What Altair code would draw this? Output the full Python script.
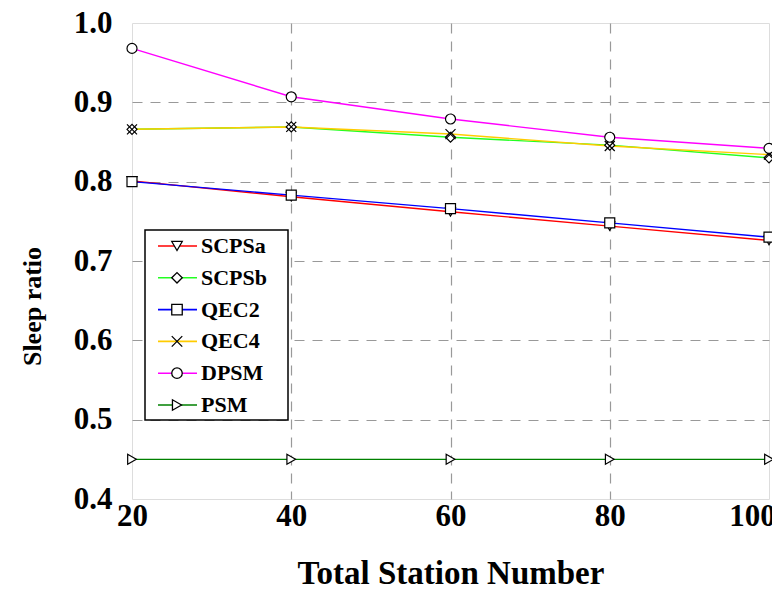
import altair as alt
import pandas as pd

stations = [20, 40, 60, 80, 100]
series_names = ["SCPSa", "SCPSb", "QEC2", "QEC4", "DPSM", "PSM"]
scpsa = [0.801, 0.781, 0.762, 0.744, 0.726]
scpsb = [0.866, 0.869, 0.856, 0.846, 0.830]
qec2 = [0.800, 0.783, 0.766, 0.748, 0.730]
qec4 = [0.866, 0.869, 0.860, 0.845, 0.834]
dpsm = [0.968, 0.907, 0.879, 0.856, 0.842]
psm = [0.45, 0.45, 0.45, 0.45, 0.45]
y_ticks = [0.4, 0.5, 0.6, 0.7, 0.8, 0.9, 1.0]

values = [scpsa, scpsb, qec2, qec4, dpsm, psm]
rows = []
for name, vals in zip(series_names, values):
    for s, v in zip(stations, vals):
        rows.append({"station": s, "ratio": v, "series": name})
df = pd.DataFrame(rows)
legend_df = pd.DataFrame({"series": series_names})

colors = ["#ff0000", "#22ff22", "#0000ff", "#ffcc00", "#ff00ff", "#008000"]
shapes = ["triangle-down", "diamond", "square", "M-1,-1L1,1M-1,1L1,-1", "circle", "triangle-right"]

FONT = "Liberation Serif"
GRID_DASH = [10, 8]

color_scale = alt.Scale(domain=series_names, range=colors)
shape_scale = alt.Scale(domain=series_names, range=shapes)

x = alt.X("station:Q", title="Total Station Number",
          scale=alt.Scale(domain=[20, 100], nice=False),
          axis=alt.Axis(values=stations, labelFontSize=31, titleFontSize=33,
                        labelFont=FONT, titleFont=FONT, labelFontWeight="bold",
                        titleFontWeight="bold", labelColor="black", titleColor="black",
                        grid=True, gridDash=GRID_DASH, gridColor="#999999", gridWidth=1.2,
                        gridOpacity=alt.condition("datum.value == 20 || datum.value == 100",
                                                  alt.value(0), alt.value(1)),
                        labelOffset=alt.condition("datum.value == 100",
                                                  alt.value(-17), alt.value(0)),
                        ticks=False, tickSize=0, domain=False, labelFlush=False,
                        labelBaseline="alphabetic", labelPadding=26,
                        titleY=84, titleBaseline="alphabetic"))
y = alt.Y("ratio:Q", title="Sleep ratio",
          scale=alt.Scale(domain=[0.4, 1.0], nice=False),
          axis=alt.Axis(values=y_ticks, format=".1f",
                        labelFontSize=31, titleFontSize=26, labelFont=FONT, titleFont=FONT,
                        labelFontWeight="bold", titleFontWeight="bold",
                        labelColor="black", titleColor="black",
                        grid=True, gridDash=GRID_DASH, gridColor="#999999", gridWidth=1.2,
                        gridOpacity=alt.condition("datum.value <= 0.4 || datum.value >= 1",
                                                  alt.value(0), alt.value(1)),
                        ticks=False, tickSize=0, domain=False, labelPadding=20,
                        labelFlush=False,
                        titleX=-92, titleY=283, titleAngle=270,
                        titleBaseline="alphabetic", titleAlign="center"))

lines = alt.Chart(df).mark_line(strokeWidth=1.4).encode(
    x=x, y=y,
    color=alt.Color("series:N", scale=color_scale, legend=None),
    order="station:Q",
)
points = alt.Chart(df).mark_point(filled=True, strokeWidth=1.2, size=100, opacity=1).encode(
    x=x, y=y,
    stroke=alt.value("black"),
    fill=alt.value("white"),
    shape=alt.Shape("series:N", scale=shape_scale, legend=None),
)
main = alt.layer(lines, points)

# legend drawn as marks inside the plot area
ly = alt.Y("series:N", axis=None,
           scale=alt.Scale(type="point", domain=series_names, range=[223, 382], padding=0))
box = alt.Chart(legend_df.head(1)).mark_rect(fill="white", stroke="black", strokeWidth=1.5).encode(
    x=alt.value(13), x2=alt.value(156), y=alt.value(207), y2=alt.value(397))
leg_lines = alt.Chart(legend_df).mark_rule(strokeWidth=1.6).encode(
    x=alt.value(26), x2=alt.value(65), y=ly,
    color=alt.Color("series:N", scale=color_scale, legend=None))
leg_pts = alt.Chart(legend_df).mark_point(filled=True, size=110, strokeWidth=1.3, opacity=1).encode(
    x=alt.value(45), y=ly, stroke=alt.value("black"), fill=alt.value("white"),
    shape=alt.Shape("series:N", scale=shape_scale, legend=None))
leg_text = alt.Chart(legend_df).mark_text(align="left", baseline="middle", font=FONT,
                                          fontSize=22, fontWeight="bold", color="black").encode(
    x=alt.value(69), y=ly, text="series:N")
legend_layer = alt.layer(box, leg_lines, leg_pts, leg_text)

chart = alt.layer(main, legend_layer).resolve_scale(y="independent").properties(
    width=637, height=476,
    autosize=alt.AutoSizeParams(type="none"),
    padding={"left": 124, "top": 15, "right": 3, "bottom": 87},
).configure_view(stroke="black", strokeWidth=2.5).configure(background="white")

chart.save("out.html", embed_options={"renderer": "svg", "actions": False})
